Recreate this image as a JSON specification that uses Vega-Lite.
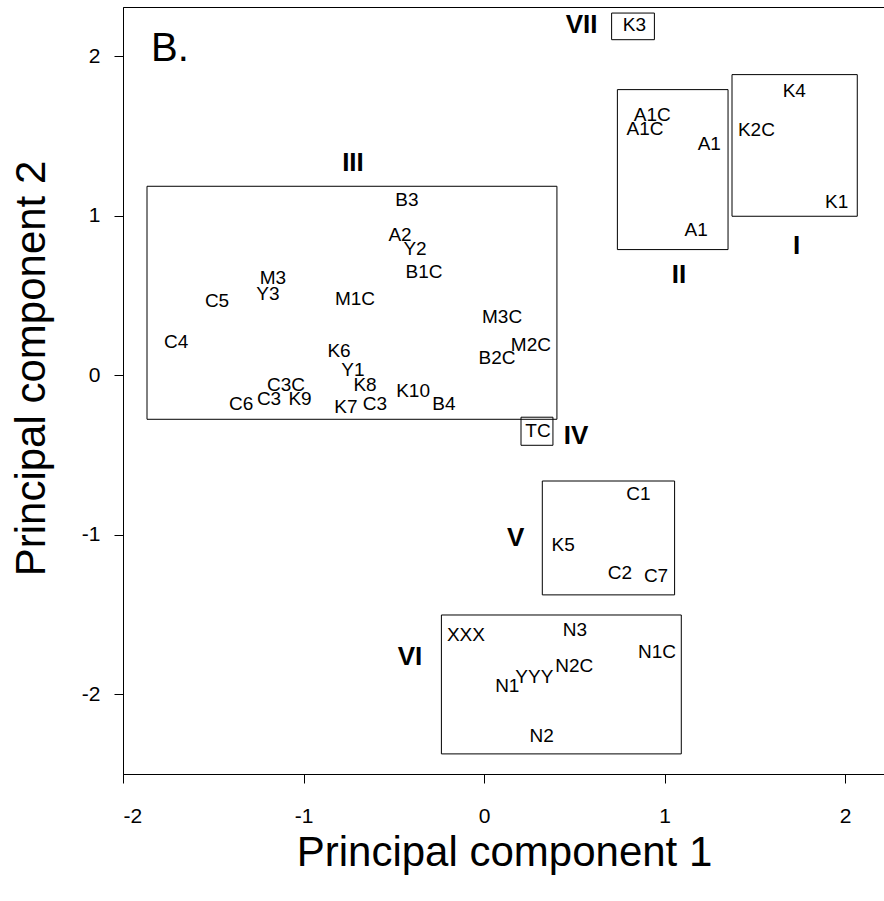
{
  "$schema": "https://vega.github.io/schema/vega-lite/v6.json",
  "autosize": {"type": "none"},
  "padding": {"left": 123, "top": 7, "right": 0, "bottom": 127},
  "width": 762,
  "height": 767,
  "background": "white",
  "config": {
    "view": {"stroke": "black", "strokeWidth": 1},
    "font": "Liberation Sans",
    "axis": {
      "grid": false,
      "domainColor": "black",
      "tickColor": "black",
      "tickSize": 9,
      "labelColor": "black",
      "titleColor": "black",
      "labelFont": "Liberation Sans",
      "titleFont": "Liberation Sans",
      "labelFontSize": 21,
      "titleFontSize": 42,
      "titleFontWeight": "normal"
    }
  },
  "datasets": {
    "samples": [
      {"x": -0.427, "y": 1.097, "label": "B3"},
      {"x": -0.465, "y": 0.878, "label": "A2"},
      {"x": -0.382, "y": 0.790, "label": "Y2"},
      {"x": -0.332, "y": 0.646, "label": "B1C"},
      {"x": -1.169, "y": 0.608, "label": "M3"},
      {"x": -1.197, "y": 0.508, "label": "Y3"},
      {"x": -1.479, "y": 0.464, "label": "C5"},
      {"x": -0.715, "y": 0.476, "label": "M1C"},
      {"x": -1.706, "y": 0.207, "label": "C4"},
      {"x": 0.100, "y": 0.364, "label": "M3C"},
      {"x": 0.260, "y": 0.188, "label": "M2C"},
      {"x": 0.072, "y": 0.107, "label": "B2C"},
      {"x": -0.803, "y": 0.150, "label": "K6"},
      {"x": -0.726, "y": 0.031, "label": "Y1"},
      {"x": -0.659, "y": -0.063, "label": "K8"},
      {"x": -1.097, "y": -0.063, "label": "C3C"},
      {"x": -1.191, "y": -0.150, "label": "C3"},
      {"x": -1.019, "y": -0.150, "label": "K9"},
      {"x": -1.346, "y": -0.182, "label": "C6"},
      {"x": -0.765, "y": -0.201, "label": "K7"},
      {"x": -0.604, "y": -0.182, "label": "C3"},
      {"x": -0.393, "y": -0.100, "label": "K10"},
      {"x": -0.222, "y": -0.182, "label": "B4"},
      {"x": 0.299, "y": -0.351, "label": "TC"},
      {"x": 0.833, "y": 2.194, "label": "K3"},
      {"x": 0.932, "y": 1.634, "label": "A1C"},
      {"x": 0.892, "y": 1.547, "label": "A1C"},
      {"x": 1.248, "y": 1.448, "label": "A1"},
      {"x": 1.175, "y": 0.913, "label": "A1"},
      {"x": 1.719, "y": 1.782, "label": "K4"},
      {"x": 1.509, "y": 1.540, "label": "K2C"},
      {"x": 1.954, "y": 1.085, "label": "K1"},
      {"x": 0.855, "y": -0.746, "label": "C1"},
      {"x": 0.439, "y": -1.066, "label": "K5"},
      {"x": 0.753, "y": -1.237, "label": "C2"},
      {"x": 0.953, "y": -1.258, "label": "C7"},
      {"x": -0.100, "y": -1.630, "label": "XXX"},
      {"x": 0.504, "y": -1.599, "label": "N3"},
      {"x": 0.958, "y": -1.735, "label": "N1C"},
      {"x": 0.500, "y": -1.823, "label": "N2C"},
      {"x": 0.279, "y": -1.891, "label": "YYY"},
      {"x": 0.129, "y": -1.948, "label": "N1"},
      {"x": 0.320, "y": -2.261, "label": "N2"}
    ],
    "groups": [
      {"x": -0.726, "y": 1.329, "label": "III"},
      {"x": 0.510, "y": -0.382, "label": "IV"},
      {"x": 0.175, "y": -1.020, "label": "V"},
      {"x": -0.410, "y": -1.768, "label": "VI"},
      {"x": 0.541, "y": 2.194, "label": "VII"},
      {"x": 1.080, "y": 0.631, "label": "II"},
      {"x": 1.732, "y": 0.811, "label": "I"}
    ],
    "panel": [
      {"x": -1.740, "y": 2.048, "label": "B."}
    ],
    "boxes": [
      {"group": "III", "x1": -1.867, "x2": 0.404, "y1": 1.185, "y2": -0.276},
      {"group": "IV", "x1": 0.205, "x2": 0.382, "y1": -0.263, "y2": -0.439},
      {"group": "V", "x1": 0.323, "x2": 1.056, "y1": -0.663, "y2": -1.377},
      {"group": "VI", "x1": -0.236, "x2": 1.093, "y1": -1.503, "y2": -2.374},
      {"group": "VII", "x1": 0.707, "x2": 0.944, "y1": 2.271, "y2": 2.104},
      {"group": "II", "x1": 0.739, "x2": 1.352, "y1": 1.791, "y2": 0.788},
      {"group": "I", "x1": 1.374, "x2": 2.068, "y1": 1.885, "y2": 0.997}
    ]
  },
  "layer": [
    {
      "data": {"name": "boxes"},
      "mark": {"type": "rect", "fill": null, "fillOpacity": 0, "stroke": "black", "strokeWidth": 1},
      "encoding": {
        "x": {
          "field": "x1", "type": "quantitative",
          "scale": {"domain": [-2, 2.2216], "nice": false, "zero": false},
          "axis": {"values": [-2, -1, 0, 1, 2], "title": "Principal component 1", "labelPadding": 22, "titlePadding": 6, "labelExpr": "'' + datum.value"}
        },
        "x2": {"field": "x2"},
        "y": {
          "field": "y1", "type": "quantitative",
          "scale": {"domain": [-2.5, 2.309], "nice": false, "zero": false},
          "axis": {"values": [-2, -1, 0, 1, 2], "title": "Principal component 2", "labelPadding": 14, "titlePadding": 28, "titleY": 361, "labelExpr": "'' + datum.value"}
        },
        "y2": {"field": "y2"}
      }
    },
    {
      "data": {"name": "samples"},
      "mark": {"type": "text", "fontSize": 19, "font": "Liberation Sans", "color": "black", "align": "center", "baseline": "middle"},
      "encoding": {
        "x": {"field": "x", "type": "quantitative"},
        "y": {"field": "y", "type": "quantitative"},
        "text": {"field": "label"}
      }
    },
    {
      "data": {"name": "groups"},
      "mark": {"type": "text", "fontSize": 26, "fontWeight": "bold", "font": "Liberation Sans", "color": "black", "align": "center", "baseline": "middle"},
      "encoding": {
        "x": {"field": "x", "type": "quantitative"},
        "y": {"field": "y", "type": "quantitative"},
        "text": {"field": "label"}
      }
    },
    {
      "data": {"name": "panel"},
      "mark": {"type": "text", "fontSize": 40, "font": "Liberation Sans", "color": "black", "align": "center", "baseline": "middle"},
      "encoding": {
        "x": {"field": "x", "type": "quantitative"},
        "y": {"field": "y", "type": "quantitative"},
        "text": {"field": "label"}
      }
    }
  ]
}
